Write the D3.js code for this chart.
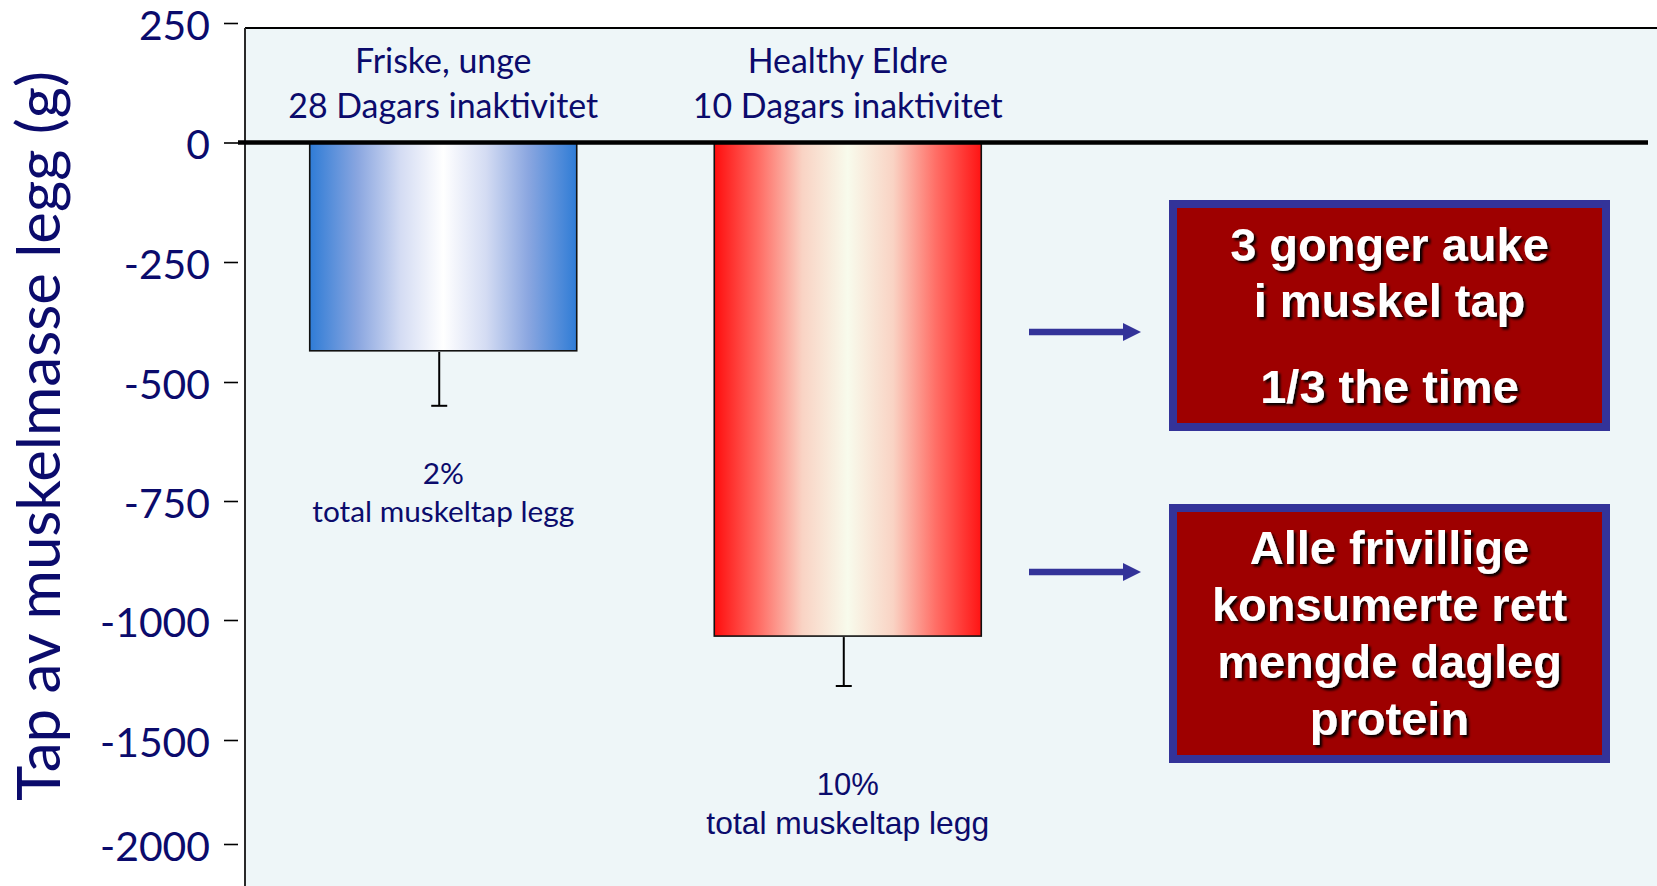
<!DOCTYPE html>
<html>
<head>
<meta charset="utf-8">
<script src="https://cdn.jsdelivr.net/npm/d3@7"></script>
<style>
  html, body { margin: 0; padding: 0; background: #ffffff; }
  svg { display: block; }
</style>
</head>
<body>
<svg id="chart" width="1657" height="886"></svg>
<script>
// ---------------- DATA ----------------
const groupLine1 = ["Friske, unge", "Healthy Eldre"];
const groupLine2 = ["28 Dagars inaktivitet", "10 Dagars inaktivitet"];
const lossValues = [-435, -1067];          // g
const lossErrors = [115, 208];             // g (SE)
const pctLabels = ["2%", "10%"];
const pctSubLabel = ["total muskeltap legg", "total muskeltap legg"];
const tickValues = [250, 0, -250, -500, -750, -1000, -1500, -2000];
const tickLabels = ["250", "0", "-250", "-500", "-750", "-1000", "-1500", "-2000"];
const yTitle = "Tap av muskelmasse legg (g)";
const box1Lines = ["3 gonger auke", "i muskel tap", "1/3 the time"];
const box2Lines = ["Alle frivillige", "konsumerte rett", "mengde dagleg", "protein"];

// ---------------- SETUP ----------------
const W = 1657, H = 886;
const svg = d3.select("#chart");
const navy = "#0b0b6c";
const calibriLike = "Lato, 'Open Sans', sans-serif";
const arialLike = "'Liberation Sans', Arial, sans-serif";

const defs = svg.append("defs");
function hGrad(id, stops) {
  const g = defs.append("linearGradient").attr("id", id)
    .attr("x1", "0%").attr("x2", "100%").attr("y1", "0%").attr("y2", "0%");
  stops.forEach(s => g.append("stop").attr("offset", s[0]).attr("stop-color", s[1]));
}
hGrad("gBlue", [[0, "#2f7cd6"], [0.18, "#8aa6e0"], [0.34, "#d4dcf3"], [0.5, "#ffffff"], [0.66, "#d4dcf3"], [0.82, "#8aa6e0"], [1, "#2f7cd6"]]);
hGrad("gRed", [[0, "#ff0d0d"], [0.17, "#ff6e66"], [0.33, "#f9d3c4"], [0.5, "#f8fbec"], [0.67, "#f9d3c4"], [0.83, "#ff6e66"], [1, "#ff1414"]]);

const shadow = defs.append("filter").attr("id", "shadow")
  .attr("x", "-10%").attr("y", "-20%").attr("width", "130%").attr("height", "150%");
shadow.append("feDropShadow").attr("dx", 2.5).attr("dy", 2.5)
  .attr("stdDeviation", 1).attr("flood-color", "#000").attr("flood-opacity", 0.95);

// plot area
const plotLeft = 245, plotTop = 28;
svg.append("rect").attr("x", plotLeft).attr("y", plotTop)
  .attr("width", W - plotLeft).attr("height", H - plotTop).attr("fill", "#eef6f8");
svg.append("line").attr("x1", plotLeft).attr("x2", W).attr("y1", plotTop).attr("y2", plotTop)
  .attr("stroke", "#000").attr("stroke-width", 2.2);
svg.append("line").attr("x1", plotLeft).attr("x2", plotLeft).attr("y1", plotTop).attr("y2", H)
  .attr("stroke", "#2a2a2a").attr("stroke-width", 2);

// scales (axis is drawn with evenly spaced ticks, non-uniform values)
const y = d3.scaleLinear()
  .domain(tickValues)
  .range([23, 142.5, 262, 382, 501, 620, 740, 844]);
const x = d3.scaleBand()
  .domain(d3.range(groupLine1.length))
  .range([245, 1046])
  .paddingInner(0.34)
  .paddingOuter(0.16);

// axis
const axisG = svg.append("g").attr("transform", "translate(238,0)")
  .call(d3.axisLeft(y).tickValues(tickValues).tickSize(14).tickPadding(14)
    .tickFormat((d, i) => tickLabels[i]));
axisG.select(".domain").remove();
axisG.selectAll(".tick line").attr("stroke", "#000").attr("stroke-width", 1.6);
axisG.selectAll(".tick text")
  .attr("fill", navy).attr("font-family", calibriLike).attr("font-size", 44)
  .attr("dy", "0.40em");
// fit tick font to reference width of "-1000"
(function () {
  const t = axisG.selectAll(".tick text").filter(d => d === -1000).node();
  const w = t.getComputedTextLength();
  const fs = 44 * 110 / w;
  axisG.selectAll(".tick text").attr("font-size", fs);
})();

// y title
const yt = svg.append("text")
  .attr("transform", "translate(60,436) rotate(-90)")
  .attr("text-anchor", "middle")
  .attr("fill", navy).attr("font-family", calibriLike).attr("font-size", 60)
  .text(yTitle);
yt.attr("font-size", 60 * 730 / yt.node().getComputedTextLength());

// bars
const grads = ["url(#gBlue)", "url(#gRed)"];
svg.append("g").selectAll("rect").data(lossValues).join("rect")
  .attr("x", (d, i) => x(i))
  .attr("y", y(0))
  .attr("width", x.bandwidth())
  .attr("height", d => y(d) - y(0))
  .attr("fill", (d, i) => grads[i])
  .attr("stroke", "#111").attr("stroke-width", 1.6);

// error bars
const eg = svg.append("g").attr("stroke", "#000").attr("stroke-width", 2);
lossValues.forEach((v, i) => {
  const cx = x(i) + x.bandwidth() / 2 - 4;
  eg.append("line").attr("x1", cx).attr("x2", cx).attr("y1", y(v) + 1).attr("y2", y(v - lossErrors[i]));
  eg.append("line").attr("x1", cx - 8).attr("x2", cx + 8)
    .attr("y1", y(v - lossErrors[i])).attr("y2", y(v - lossErrors[i]));
});

// zero line
svg.append("line").attr("x1", 238).attr("x2", 1648).attr("y1", y(0)).attr("y2", y(0))
  .attr("stroke", "#000").attr("stroke-width", 4.5);

// group labels above
function fitText(sel, target) {
  const fs = parseFloat(sel.attr("font-size"));
  sel.attr("font-size", fs * target / sel.node().getComputedTextLength());
  return sel;
}
groupLine1.forEach((t, i) => {
  const cx = x(i) + x.bandwidth() / 2;
  const a = svg.append("text").attr("x", cx).attr("y", 73).attr("text-anchor", "middle")
    .attr("fill", navy).attr("font-family", calibriLike).attr("font-size", 30).text(t);
  const b = svg.append("text").attr("x", cx).attr("y", 118).attr("text-anchor", "middle")
    .attr("fill", navy).attr("font-family", calibriLike).attr("font-size", 30).text(groupLine2[i]);
  fitText(b, 310);
  a.attr("font-size", b.attr("font-size"));
});

// percentage labels
{
  const cx0 = x(0) + x.bandwidth() / 2;
  const p1 = svg.append("text").attr("x", cx0).attr("y", 522).attr("text-anchor", "middle")
    .attr("fill", navy).attr("font-family", calibriLike).attr("font-size", 26).text(pctSubLabel[0]);
  fitText(p1, 262);
  svg.append("text").attr("x", cx0).attr("y", 484).attr("text-anchor", "middle")
    .attr("fill", navy).attr("font-family", calibriLike).attr("font-size", p1.attr("font-size")).text(pctLabels[0]);

  const cx1 = x(1) + x.bandwidth() / 2;
  svg.append("text").attr("x", cx1).attr("y", 795).attr("text-anchor", "middle")
    .attr("fill", navy).attr("font-family", arialLike).attr("font-size", 31).text(pctLabels[1]);
  const p2 = svg.append("text").attr("x", cx1).attr("y", 834).attr("text-anchor", "middle")
    .attr("fill", navy).attr("font-family", arialLike).attr("font-size", 31).text(pctSubLabel[1]);
  fitText(p2, 283);
}

// arrows
const arrowColor = "#333399";
[332, 572].forEach(ay => {
  svg.append("line").attr("x1", 1029).attr("x2", 1126).attr("y1", ay).attr("y2", ay)
    .attr("stroke", arrowColor).attr("stroke-width", 6.5);
  svg.append("path").attr("d", `M1123,${ay - 9} L1141,${ay} L1123,${ay + 9} Z`).attr("fill", arrowColor);
});

// boxes
function drawBox(x0, y0, x1, y1, lines, baselines) {
  svg.append("rect").attr("x", x0 + 4).attr("y", y0 + 4)
    .attr("width", x1 - x0 - 8).attr("height", y1 - y0 - 8)
    .attr("fill", "#9e0000").attr("stroke", "#333399").attr("stroke-width", 8);
  const cx = (x0 + x1) / 2;
  lines.forEach((t, i) => {
    svg.append("text").attr("x", cx).attr("y", baselines[i]).attr("text-anchor", "middle")
      .attr("fill", "#fff").attr("font-family", arialLike).attr("font-weight", "bold")
      .attr("font-size", 47).attr("filter", "url(#shadow)").text(t);
  });
}
drawBox(1169, 200, 1610, 431, box1Lines, [261, 317, 403]);
drawBox(1169, 504, 1610, 763, box2Lines, [564, 621, 678, 735]);
</script>
</body>
</html>
